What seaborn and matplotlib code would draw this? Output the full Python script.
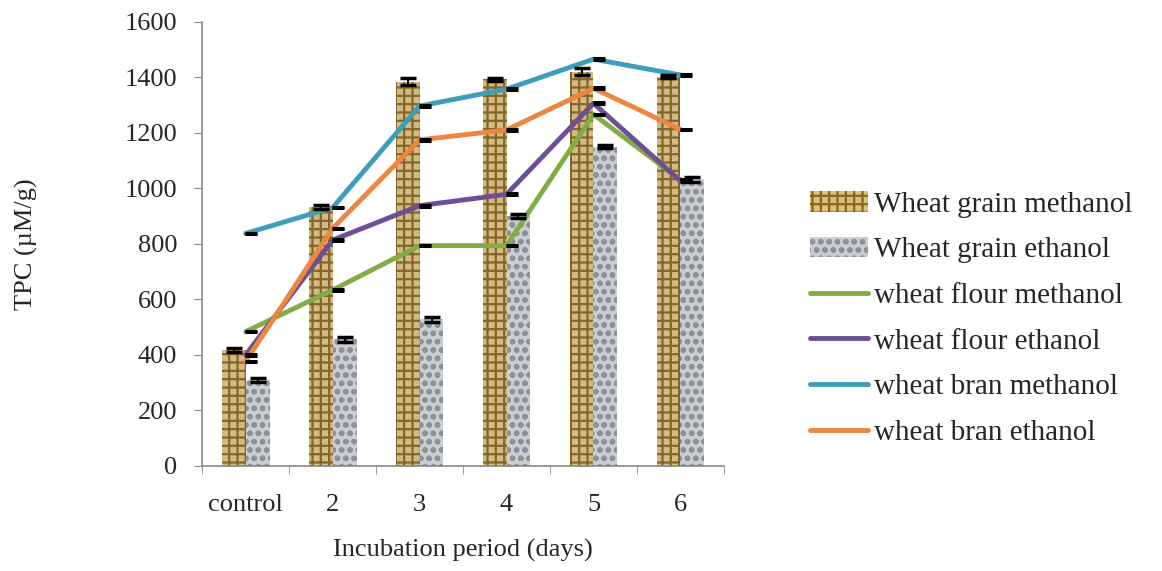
import numpy as np
import pandas as pd
import seaborn as sns
import matplotlib.pyplot as plt
from matplotlib.lines import Line2D
from matplotlib.patches import Patch

days = ['control', '2', '3', '4', '5', '6']

# bars
grain_methanol = [418, 934, 1385, 1393, 1421, 1403]
grain_ethanol = [310, 456, 528, 901, 1151, 1033]
grain_methanol_err = [8, 8, 12, 6, 12, 6]
grain_ethanol_err = [6, 8, 10, 6, 6, 10]

# lines
flour_methanol = [484, 634, 794, 794, 1267, 1031]
flour_ethanol = [400, 814, 938, 979, 1307, 1027]
bran_methanol = [838, 931, 1297, 1358, 1466, 1409]
bran_ethanol = [376, 856, 1175, 1211, 1361, 1213]

bar_names = ['Wheat grain methanol', 'Wheat grain ethanol']
line_names = ['wheat flour methanol', 'wheat flour ethanol',
              'wheat bran methanol', 'wheat bran ethanol']
line_colors = ['#82AD45', '#6E4F96', '#3E9DB8', '#EC8640']

sns.set_style('white')
plt.rcParams['font.family'] = ['Liberation Serif', 'DejaVu Serif']
plt.rcParams['hatch.linewidth'] = 1.6

bars = pd.DataFrame({
    'day': days * 2,
    'TPC': grain_methanol + grain_ethanol,
    'series': [bar_names[0]] * 6 + [bar_names[1]] * 6,
})

fig = plt.figure(figsize=(11.62, 5.71), dpi=100)
ax = fig.add_axes([0.174, 0.184, 0.449, 0.7775])

sns.barplot(data=bars, x='day', y='TPC', hue='series', order=days,
            palette=['#E0BE74', '#C9CDD3'], width=0.55, errorbar=None,
            legend=False, ax=ax)

hatches = ['++', 'oo']
edges = ['#85662A', '#8D9299']
for cont, h, e in zip(ax.containers, hatches, edges):
    for p in cont:
        p.set_hatch(h)
        p.set_edgecolor(e)
        p.set_linewidth(0)

# error bars on the bars
xpos = np.arange(len(days))
off = 0.55 / 4
ax.errorbar(xpos - off, grain_methanol, yerr=grain_methanol_err, fmt='none',
            ecolor='black', capsize=6, capthick=2.5, elinewidth=1.5, zorder=5)
ax.errorbar(xpos + off, grain_ethanol, yerr=grain_ethanol_err, fmt='none',
            ecolor='black', capsize=6, capthick=2.5, elinewidth=1.5, zorder=5)

lines = pd.DataFrame({
    'x': list(xpos) * 4,
    'TPC': flour_methanol + flour_ethanol + bran_methanol + bran_ethanol,
    'series': sum([[n] * 6 for n in line_names], []),
})
sns.lineplot(data=lines, x='x', y='TPC', hue='series', hue_order=line_names,
             palette=line_colors, linewidth=3.5, legend=False, ax=ax, zorder=4)
for vals in [flour_methanol, flour_ethanol, bran_methanol, bran_ethanol]:
    ax.errorbar(xpos + 0.06, vals, yerr=3, fmt='none', ecolor='black',
                capsize=4.5, capthick=2.2, elinewidth=1, zorder=6)

ax.set_xlim(-0.5, 5.5)
ax.set_ylim(0, 1600)
ax.set_yticks(range(0, 1601, 200))
ax.set_xticks(xpos)
ax.set_xticklabels(days)
ax.set_xticks(np.arange(-0.5, 6, 1), minor=True)
ax.tick_params(axis='x', which='major', length=0, pad=20, labelsize=19)
ax.tick_params(axis='x', which='minor', length=6, color='#888888', direction='out', bottom=True)
ax.tick_params(axis='y', length=6, color='#888888', direction='out', left=True, labelsize=19, pad=12)
for s in ['top', 'right']:
    ax.spines[s].set_visible(False)
for s in ['left', 'bottom']:
    ax.spines[s].set_color('#888888')
    ax.spines[s].set_linewidth(1.2)

ax.set_xlabel('Incubation period (days)', fontsize=19)
ax.set_ylabel('TPC (µM/g)', fontsize=19)
ax.xaxis.set_label_coords(0.5, -0.165)
ax.yaxis.set_label_coords(-0.315, 0.5)

handles = [Patch(facecolor='#E0BE74', edgecolor='#85662A', hatch='++', linewidth=0),
           Patch(facecolor='#C9CDD3', edgecolor='#8D9299', hatch='oo', linewidth=0)]
handles += [Line2D([], [], color=c, linewidth=3.5) for c in line_colors]
fig.legend(handles, bar_names + line_names, loc='upper left',
           bbox_to_anchor=(0.697, 0.665), frameon=False, fontsize=21,
           handlelength=2.0, handletextpad=0.2, labelspacing=0.66,
           borderpad=0, borderaxespad=0)

fig.savefig('out.png', dpi=100)
